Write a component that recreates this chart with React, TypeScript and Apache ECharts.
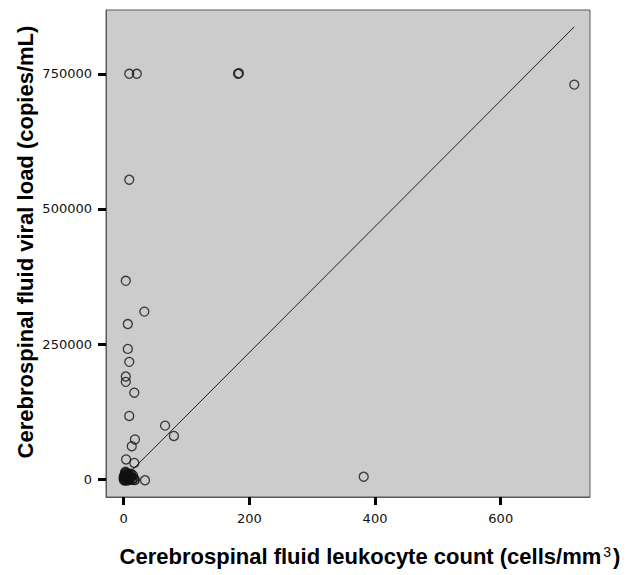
import React, { useEffect, useRef } from "react";
import * as echarts from "echarts";

// CSF leukocyte count (cells/mm3)
const leukocyteCount = [
  9, 21, 182, 183.5, 717, 9, 3.5, 33, 6.7, 6.7, 9, 3.5, 3.5, 17, 9, 66, 80, 18, 13, 4, 17, 34, 382,
  0, 1, 2, 3, 4, 5, 6, 7, 8, 10, 11, 12, 14, 15, 16, 2, 5, 9, 13, 1, 17, 18,
  0, 2, 3, 4, 6, 7, 8, 10, 11, 1, 3, 5, 6, 12,
];
// CSF viral load (copies/mL)
const viralLoad = [
  750000, 750000, 750000, 751000, 730000, 554000, 367000, 310000, 287000, 241000, 217000, 190000,
  180000, 160000, 117000, 99000, 80000, 73500, 61000, 36500, 30000, -2000, 4500,
  0, 3000, 8000, 1000, 12000, 500, 5000, 2000, 0, 9000, 1500, 4000, 0, 7000, 2000, -1500, 10000,
  -1000, -1000, 6000, -1000, -1500,
  4000, 11000, -2000, 6500, 1000, 8500, -1500, 3000, 6000, -2500, 14000, 3500, -2500, 10000,
];
// Linear fit line end points
const fitLeukocyte = [0, 717];
const fitViralLoad = [1000, 837000];

const xTickValues = [0, 200, 400, 600];
const yTickValues = [0, 250000, 500000, 750000];

const xTitleMain = "Cerebrospinal fluid leukocyte count (cells/mm";
const xTitleSup = "3";
const yTitle = "Cerebrospinal fluid viral load (copies/mL)";

const FONT = '"Liberation Sans", Arial, sans-serif';
const TICK_FONT = '"DejaVu Sans", Verdana, sans-serif';

export default function App() {
  const ref = useRef<HTMLDivElement>(null);
  useEffect(() => {
    const chart = echarts.init(ref.current!, null, { renderer: "svg" });
    const points = leukocyteCount.map((x, i) => [x, viralLoad[i]]);
    const fit = fitLeukocyte.map((x, i) => [x, fitViralLoad[i]]);
    const axisCommon = {
      splitLine: { show: false },
      axisLine: { show: true, onZero: false, lineStyle: { color: "#5a5a5a", width: 1 } },
      axisTick: { show: true, inside: false, length: 8, lineStyle: { color: "#000", width: 3 } },
    };
    chart.setOption({
      animation: false,
      backgroundColor: "#ffffff",
      grid: {
        left: 106,
        top: 10,
        right: 37,
        bottom: 78,
        show: true,
        backgroundColor: "#cccccc",
        borderColor: "#5a5a5a",
        borderWidth: 1,
      },
      xAxis: {
        type: "value",
        min: -28,
        max: 742,
        ...axisCommon,
        axisTick: { ...axisCommon.axisTick, customValues: xTickValues },
        axisLabel: {
          customValues: xTickValues,
          formatter: (v: number) => String(v),
          margin: 15,
          fontSize: 13,
          fontFamily: TICK_FONT,
          color: "#111",
        },
      },
      yAxis: {
        type: "value",
        min: -33000,
        max: 868000,
        ...axisCommon,
        axisTick: { ...axisCommon.axisTick, customValues: yTickValues },
        axisLabel: {
          customValues: yTickValues,
          formatter: (v: number) => String(v),
          margin: 14,
          fontSize: 13,
          fontFamily: TICK_FONT,
          color: "#111",
        },
      },
      series: [
        {
          type: "line",
          data: fit,
          symbol: "none",
          lineStyle: { color: "#222", width: 1 },
          silent: true,
          z: 1,
        },
        {
          type: "scatter",
          data: points,
          symbol: "circle",
          symbolSize: 9,
          itemStyle: { color: "rgba(0,0,0,0)", borderColor: "#111", borderWidth: 1.3 },
          z: 2,
        },
      ],
      graphic: [
        {
          type: "text",
          x: 25,
          y: 242,
          rotation: Math.PI / 2,
          style: {
            text: yTitle,
            font: `bold 22px ${FONT}`,
            align: "center",
            verticalAlign: "middle",
            fill: "#000",
          },
        },
        {
          type: "text",
          x: 370,
          y: 556,
          style: {
            text: `{t|${xTitleMain}}{s|${xTitleSup}}{t|)}`,
            align: "center",
            verticalAlign: "middle",
            rich: {
              t: { fontSize: 22, fontWeight: "bold", fontFamily: FONT, fill: "#000", color: "#000" },
              s: {
                fontSize: 14,
                fontFamily: FONT,
                fill: "#000",
                color: "#000",
                verticalAlign: "top",
                padding: [0, 2, 8, 2],
              },
            },
          },
        },
      ],
    });
    return () => chart.dispose();
  }, []);
  return (
    <div
      ref={ref}
      style={{ position: "fixed", left: 0, top: 0, width: 627, height: 575 }}
    />
  );
}
